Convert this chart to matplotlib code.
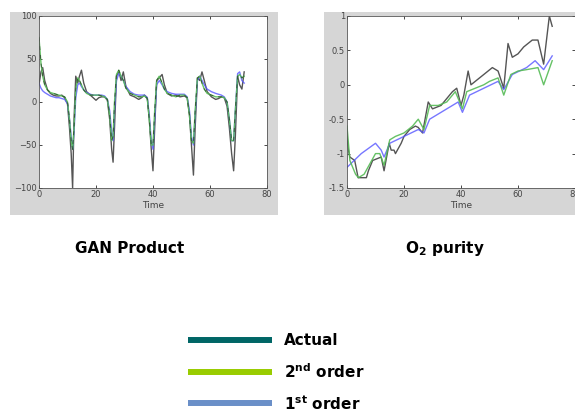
import matplotlib
matplotlib.use("Agg")
import matplotlib.pyplot as plt
from matplotlib.lines import Line2D
from matplotlib.patches import Rectangle

# GAN Product (left panel) - shared time grid
t_gan = [0, 0.7, 1.3, 2, 3, 4, 5, 6, 7, 8, 9, 10, 10.7, 11.3, 11.8, 12.3, 12.9, 13.6,
         14.2, 14.9, 15.7, 16.7, 18, 19, 20, 21, 22, 23, 24, 24.8, 25.5, 26, 26.5, 27.2,
         28, 28.8, 29.6, 30.5, 32, 33.5, 35, 36, 37, 38, 38.7, 39.4, 40, 40.6, 41.3, 42.2,
         43.2, 44, 45, 46.5, 48, 49.5, 51, 52, 52.8, 53.5, 54.2, 54.8, 55.6, 56.4, 57.2, 58,
         59, 60.5, 62, 63, 64, 65, 66, 66.8, 67.6, 68.3, 68.9, 69.7, 70.4, 71.2, 72]
gan_actual = [20, 35, 40, 25, 14, 10, 8, 7, 7, 8, 5, -2, -30, -60, -100, -20, 30, 22,
              30, 37, 22, 12, 8, 5, 2, 5, 6, 6, 2, -20, -55, -70, -30, 30,
              36, 25, 35, 18, 8, 6, 3, 5, 8, 5, -20, -55, -80, -30, 25, 28,
              32, 20, 10, 7, 8, 6, 7, 5, -15, -50, -85, -30, 28, 25, 35, 25,
              12, 6, 3, 4, 6, 5, -5, -30, -60, -80, -40, 30, 20, 15, 35]
gan_2nd = [75, 45, 30, 20, 14, 11, 10, 9, 8, 7, 6, 0, -20, -45, -55, -30, 15, 28,
           25, 20, 14, 10, 8, 8, 8, 8, 7, 6, 3, -15, -45, -40, 0, 32,
           37, 30, 25, 16, 10, 8, 6, 6, 7, 4, -20, -50, -50, -10, 25, 30,
           22, 15, 10, 8, 6, 8, 8, 5, -15, -45, -48, -10, 28, 30, 22, 15,
           10, 8, 6, 6, 6, 5, 0, -20, -45, -45, -10, 30, 32, 28, 30]
gan_1st = [22, 16, 13, 11, 9, 7, 6, 5, 5, 4, 3, -2, -20, -40, -55, -35, 5, 20,
           22, 18, 14, 11, 9, 8, 8, 8, 8, 7, 3, -10, -35, -45, -10, 25,
           33, 30, 25, 18, 12, 9, 8, 8, 8, 5, -15, -45, -55, -20, 20, 25,
           20, 15, 12, 10, 9, 9, 9, 6, -10, -40, -50, -15, 25, 30, 25, 20,
           15, 12, 10, 9, 8, 6, 0, -20, -45, -45, -10, 33, 35, 25, 22]

# O2 purity (right panel)
t_o2_actual = [0, 0.5, 1, 2.7, 3.9, 6.8, 7.5, 9, 12, 13, 14.8, 15.5, 16.5, 17, 19, 20,
               22, 24, 25, 26.5, 28.5, 30, 33, 35, 37, 38.5, 40, 41, 42.5, 43.5, 45, 48,
               51, 53, 55, 56.5, 58, 60, 62, 65, 67, 69, 71, 72]
o2_actual = [-0.75, -0.95, -1.05, -1.1, -1.35, -1.35, -1.25, -1.1, -1.05, -1.25, -0.85, -0.95,
             -0.95, -1.0, -0.85, -0.75, -0.65, -0.6, -0.62, -0.7, -0.25, -0.35, -0.3, -0.2,
             -0.1, -0.05, -0.3, -0.15, 0.2, 0.0, 0.05, 0.15, 0.25, 0.2, -0.05, 0.6, 0.4,
             0.45, 0.55, 0.65, 0.65, 0.3, 1.0, 0.85]
t_o2_2nd = [0, 1, 3, 4, 6, 8, 10, 11.5, 13, 15, 17, 20, 23, 25, 27, 29, 32, 35, 38,
            40.5, 42, 45, 48, 50, 53, 55, 57.5, 60, 63, 67, 69, 72]
o2_2nd = [-0.6, -1.1, -1.3, -1.35, -1.3, -1.15, -1.0, -1.0, -1.17, -0.8, -0.75, -0.7,
          -0.6, -0.5, -0.65, -0.3, -0.3, -0.25, -0.1, -0.35, -0.1, -0.05, 0.0, 0.05,
          0.1, -0.15, 0.15, 0.2, 0.22, 0.25, 0.0, 0.35]
t_o2_1st = [0, 5, 10, 12, 13, 15, 20, 25, 27, 29, 35, 39, 40.5, 43, 48, 53, 55, 58,
            63, 66, 69, 72]
o2_1st = [-1.2, -1.0, -0.85, -0.95, -1.05, -0.85, -0.75, -0.65, -0.7, -0.5, -0.35, -0.25,
          -0.4, -0.15, -0.05, 0.05, -0.07, 0.15, 0.25, 0.35, 0.22, 0.42]

legend_labels = ["Actual", r"2$^{\bf nd}$ order", r"1$^{\bf st}$ order"]
legend_colors = ["#006666", "#99cc00", "#6a8fc8"]

fig = plt.figure(figsize=(5.75, 4.12), dpi=100)

# grey matlab-style figure backgrounds, behind the axes
fig.patches.append(Rectangle((0.0174, 0.478), 0.466, 0.493, transform=fig.transFigure,
                             facecolor="#d6d6d6", edgecolor="none", zorder=-5))
fig.patches.append(Rectangle((0.5635, 0.478), 0.44, 0.493, transform=fig.transFigure,
                             facecolor="#d6d6d6", edgecolor="none", zorder=-5))


def matlab_axes(ax):
    ax.tick_params(direction="in", top=True, right=True, labelsize=6,
                   labelcolor="#444444", length=2.5, width=0.5, pad=1.5)
    for s in ax.spines.values():
        s.set_linewidth(0.6)
        s.set_color("#555555")
    ax.set_xlabel("Time", fontsize=6.5, color="#444444", labelpad=1.5)


ax1 = fig.add_axes([0.0678, 0.5437, 0.3965, 0.4175])
ax1.plot(t_gan, gan_actual, color="#555555", lw=1.0)
ax1.plot(t_gan, gan_1st, color="#5555ff", lw=1.0, alpha=0.8)
ax1.plot(t_gan, gan_2nd, color="#55bb55", lw=1.0, alpha=0.9)
ax1.plot(t_gan, gan_2nd, color="#223322", lw=0.7, ls=(0, (4, 5)), alpha=0.7)
ax1.set_xlim(0, 80)
ax1.set_ylim(-100, 100)
ax1.set_xticks([0, 20, 40, 60, 80])
ax1.set_yticks([-100, -50, 0, 50, 100])
matlab_axes(ax1)

ax2 = fig.add_axes([0.6035, 0.5437, 0.3965, 0.4175])
ax2.plot(t_o2_actual, o2_actual, color="#555555", lw=1.0)
ax2.plot(t_o2_1st, o2_1st, color="#5555ff", lw=1.0, alpha=0.8)
ax2.plot(t_o2_2nd, o2_2nd, color="#55bb55", lw=1.0, alpha=0.9)
ax2.set_xlim(0, 80)
ax2.set_ylim(-1.5, 1)
ax2.set_xticks([0, 20, 40, 60, 80])
ax2.set_yticks([-1.5, -1, -0.5, 0, 0.5, 1])
ax2.set_yticklabels(["-1.5", "-1", "-0.5", "0", "0.5", "1"])
matlab_axes(ax2)

fig.text(0.226, 0.398, "GAN Product", ha="center", va="center",
         fontsize=11, fontweight="bold")
fig.text(0.774, 0.398, r"O$_{\bf 2}$ purity", ha="center", va="center",
         fontsize=11, fontweight="bold")

# legend drawn by hand below the panels
for i, (lab, col) in enumerate(zip(legend_labels, legend_colors)):
    y = 0.174 - i * 0.0765
    fig.add_artist(Line2D([0.327, 0.473], [y, y], transform=fig.transFigure,
                          color=col, lw=4.3, solid_capstyle="butt"))
    fig.text(0.494, y, lab, ha="left", va="center", fontsize=11, fontweight="bold")

fig.savefig("out.png", dpi=100)
